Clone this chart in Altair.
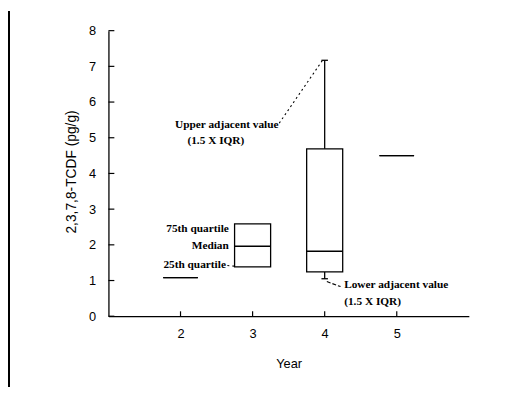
import altair as alt
import pandas as pd

# ---- data ----
years = [2, 3, 4, 5]
q1 = [1.08, 1.38, 1.24, 4.50]
medians = [1.08, 1.96, 1.82, 4.50]
q3 = [1.08, 2.59, 4.69, 4.50]
lower_adj = [1.08, 1.38, 1.05, 4.50]
upper_adj = [1.08, 2.59, 7.17, 4.50]
half_width = [0.24, 0.25, 0.25, 0.24]
cap_half = [0.0, 0.0, 0.045, 0.0]

x_ticks = [2, 3, 4, 5]
y_ticks = [0, 1, 2, 3, 4, 5, 6, 7, 8]

ann_text = ["Upper adjacent value", "(1.5 X IQR)", "75th quartile", "Median",
            "25th quartile", "Lower adjacent value", "(1.5 X IQR)"]
ann_x = [3.36, 2.49, 2.67, 2.67, 2.63, 4.27, 4.27]
ann_y = [5.35, 4.91, 2.43, 1.96, 1.43, 0.88, 0.41]
ann_align = ["right", "center", "right", "right", "right", "left", "left"]

lead_x = [3.37, 2.65, 4.03]
lead_x2 = [3.97, 2.76, 4.22]
lead_y = [5.41, 1.42, 0.97]
lead_y2 = [7.17, 1.40, 0.83]
lead_style = ["dotted", "dotted", "dashed"]

# ---- tables ----
box = pd.DataFrame({
    "year": years, "q1": q1, "med": medians, "q3": q3,
    "lower": lower_adj, "upper": upper_adj,
})
box["lo"] = [y - h for y, h in zip(years, half_width)]
box["hi"] = [y + h for y, h in zip(years, half_width)]
box["clo"] = [y - c for y, c in zip(years, cap_half)]
box["chi"] = [y + c for y, c in zip(years, cap_half)]

ann = pd.DataFrame({"t": ann_text, "x": ann_x, "y": ann_y, "a": ann_align})
lead = pd.DataFrame({"x": lead_x, "x2": lead_x2, "y": lead_y, "y2": lead_y2, "s": lead_style})
xt = pd.DataFrame({"v": x_ticks})
yt = pd.DataFrame({"v": y_ticks})

xscale = alt.Scale(domain=[1, 6], nice=False, zero=False)
yscale = alt.Scale(domain=[0, 8], nice=False, zero=True)
xaxis = alt.Axis(values=x_ticks, ticks=False, tickSize=0, grid=False, labelPadding=12,
                 labelFontSize=13, labelFont="Liberation Sans", labelColor="black",
                 domainColor="black", domainWidth=1.3, title="Year",
                 titleFont="Liberation Sans", titleFontSize=13, titleFontWeight="normal",
                 titleColor="black", titlePadding=17)
yaxis = alt.Axis(values=y_ticks, ticks=False, tickSize=0, grid=False, labelPadding=13,
                 labelFontSize=13, labelFont="Liberation Sans", labelColor="black",
                 domainColor="black", domainWidth=1.3, title="2,3,7,8-TCDF (pg/g)",
                 titleFont="Liberation Sans", titleFontSize=14, titleFontWeight="normal",
                 titleColor="black", titlePadding=10, titleY=143)


def X(f):
    return alt.X(f, type="quantitative", scale=xscale, axis=xaxis)


def Y(f):
    return alt.Y(f, type="quantitative", scale=yscale, axis=yaxis)


base = alt.Chart(box)
sw = 1.3

rects = base.mark_rect(fill="white", stroke="black", strokeWidth=sw).encode(
    x=X("lo"), x2="hi", y=Y("q1"), y2="q3")
med = base.mark_rule(color="black", strokeWidth=sw).encode(x=X("lo"), x2="hi", y=Y("med"))
wup = base.mark_rule(color="black", strokeWidth=sw).encode(x=X("year"), y=Y("q3"), y2="upper")
wlo = base.mark_rule(color="black", strokeWidth=sw).encode(x=X("year"), y=Y("lower"), y2="q1")
cup = base.mark_rule(color="black", strokeWidth=sw).encode(x=X("clo"), x2="chi", y=Y("upper"))
clo = base.mark_rule(color="black", strokeWidth=sw).encode(x=X("clo"), x2="chi", y=Y("lower"))

ann_layers = []
for al in ["left", "center", "right"]:
    ann_layers.append(
        alt.Chart(ann).transform_filter(alt.datum.a == al).mark_text(
            align=al, baseline="middle", font="Liberation Serif", fontWeight="bold",
            fontSize=11.5, color="black"
        ).encode(x=X("x"), y=Y("y"), text="t:N")
    )

dotted = alt.Chart(lead).transform_filter(alt.datum.s == "dotted").mark_rule(
    color="black", strokeWidth=1.1, strokeDash=[2, 3]).encode(
    x=X("x"), x2="x2", y=Y("y"), y2="y2")
dashed = alt.Chart(lead).transform_filter(alt.datum.s == "dashed").mark_rule(
    color="black", strokeWidth=1.1, strokeDash=[4, 2]).encode(
    x=X("x"), x2="x2", y=Y("y"), y2="y2")

xtick = alt.Chart(xt).mark_rule(color="black", strokeWidth=1.2).encode(
    x=X("v"), y=alt.value(290), y2=alt.value(285))
ytick = alt.Chart(yt).mark_rule(color="black", strokeWidth=1.2).encode(
    y=Y("v"), x=alt.value(0), x2=alt.value(6))

border = alt.Chart(yt).mark_rule(color="black", strokeWidth=2).encode(
    x=alt.value(-101), y=alt.value(-20), y2=alt.value(362))

chart = alt.layer(
    rects, med, wup, wlo, cup, clo, *ann_layers, dotted, dashed, xtick, ytick, border
).properties(
    width=366, height=290,
    autosize=alt.AutoSizeParams(type="none"),
    padding={"left": 102, "top": 20, "right": 55, "bottom": 78},
    background="white",
).configure_view(stroke=None)

chart.save("out.html", embed_options={"renderer": "svg", "actions": False})
